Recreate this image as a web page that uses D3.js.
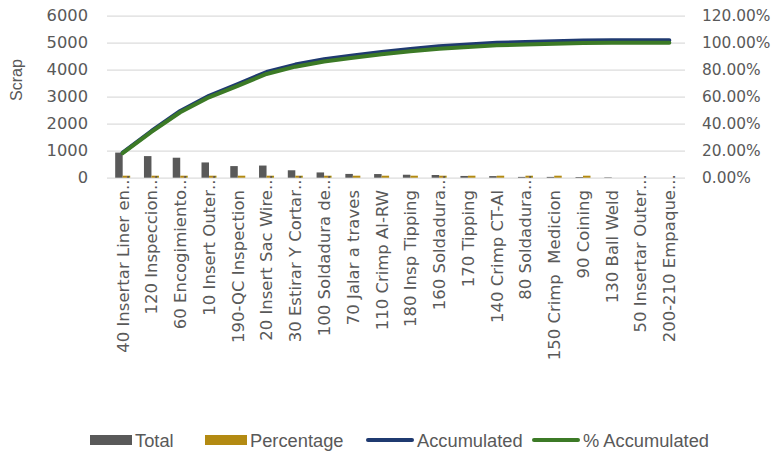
<!DOCTYPE html>
<html>
<head>
<meta charset="utf-8">
<script src="https://cdn.jsdelivr.net/npm/d3@7/dist/d3.min.js"></script>
<style>
  html, body { margin: 0; padding: 0; background: #fff; }
  svg { display: block; }
  .tick text { fill: #595959; }
</style>
</head>
<body>
<svg id="chart" width="774" height="453"></svg>
<script>
var categories = [
  "40 Insertar Liner en...", "120 Inspeccion...", "60 Encogimiento...", "10 Insert Outer...",
  "190-QC Inspection", "20 Insert Sac Wire...", "30 Estirar Y Cortar...", "100 Soldadura de...",
  "70 Jalar a traves", "110 Crimp Al-RW", "180 Insp Tipping", "160 Soldadura...",
  "170 Tipping", "140 Crimp CT-Al", "80 Soldadura...", "150 Crimp  Medicion",
  "90 Coining", "130 Ball Weld", "50 Insertar Outer...", "200-210 Empaque..."
];
var total = [930, 800, 740, 565, 430, 450, 275, 195, 140, 135, 110, 100, 65, 60, 30, 30, 25, 15, 0, 0];
var percentage = [0.18, 0.16, 0.15, 0.11, 0.08, 0.09, 0.05, 0.04, 0.03, 0.03, 0.02, 0.02, 0.01, 0.01, 0.01, 0.01, 0.01, 0, 0, 0];
var accumulated = [930, 1730, 2470, 3035, 3465, 3915, 4190, 4385, 4525, 4660, 4770, 4870, 4935, 4995, 5025, 5055, 5080, 5095, 5095, 5095];
var pctAccumulated = [0.1825, 0.3396, 0.4848, 0.5957, 0.6801, 0.7684, 0.8224, 0.8607, 0.8881, 0.9146, 0.9362, 0.9558, 0.9686, 0.9804, 0.9863, 0.9921, 0.9971, 1, 1, 1];
var leftTicks = [0, 1000, 2000, 3000, 4000, 5000, 6000];
var rightTicks = [0, 0.2, 0.4, 0.6, 0.8, 1.0, 1.2];
var legendItems = [
  { name: "Total", type: "bar", color: "#595959" },
  { name: "Percentage", type: "bar", color: "#b38a12" },
  { name: "Accumulated", type: "line", color: "#1f3a70" },
  { name: "% Accumulated", type: "line", color: "#3c7a26" }
];

var svg = d3.select("#chart");
var plotLeft = 107, plotRight = 685, plotTop = 15.7, plotBottom = 177.7;
var textColor = "#595959";

var x = d3.scaleBand().domain(categories).range([108.3, 683.7]);
var x1 = d3.scaleBand().domain(["Total", "Percentage"])
  .range([x.bandwidth() / 2 - 7.5, x.bandwidth() / 2 + 7.5]);
var yL = d3.scaleLinear().domain([0, 6000]).range([plotBottom, plotTop]);
var yR = d3.scaleLinear().domain([0, 1.2]).range([plotBottom, plotTop]);

// left axis with gridlines
var gL = svg.append("g")
  .attr("transform", "translate(" + plotLeft + ",0)")
  .call(d3.axisLeft(yL).tickValues(leftTicks).tickSizeInner(-(plotRight - plotLeft)).tickSizeOuter(0).tickPadding(19).tickFormat(d3.format("d")));
gL.select(".domain").remove();
gL.selectAll(".tick line").attr("stroke", "#dcdcdc").attr("stroke-width", 1.3);
gL.selectAll(".tick text").attr("font-family", "DejaVu Sans").attr("font-size", 16.3);

// right axis
var gR = svg.append("g")
  .attr("transform", "translate(" + plotRight + ",0)")
  .call(d3.axisRight(yR).tickValues(rightTicks).tickSize(0).tickPadding(17).tickFormat(d3.format(".2%")));
gR.select(".domain").remove();
gR.selectAll(".tick text").attr("font-family", "DejaVu Sans").attr("font-size", 15.4);

// y title
svg.append("text")
  .attr("transform", "translate(22,80) rotate(-90)")
  .attr("text-anchor", "middle")
  .attr("font-family", "Liberation Sans")
  .attr("font-size", 16)
  .attr("fill", textColor)
  .text("Scrap");

// bars
var groups = svg.append("g").selectAll("g")
  .data(categories)
  .enter().append("g")
  .attr("transform", function (d) { return "translate(" + x(d) + ",0)"; });

groups.append("rect")
  .attr("x", x1("Total"))
  .attr("width", x1.bandwidth())
  .attr("y", function (d, i) { return yL(total[i]); })
  .attr("height", function (d, i) { return plotBottom - yL(total[i]); })
  .attr("fill", legendItems[0].color);

groups.filter(function (d, i) { return percentage[i] > 0; })
  .append("rect")
  .attr("x", x1("Percentage"))
  .attr("width", x1.bandwidth())
  .attr("y", function (d) { var i = categories.indexOf(d); return Math.min(yL(percentage[i]), plotBottom - 2); })
  .attr("height", function (d) { var i = categories.indexOf(d); return Math.max(plotBottom - yL(percentage[i]), 2); })
  .attr("fill", legendItems[1].color);

// category labels
var labels = svg.append("g").selectAll("g")
  .data(categories)
  .enter().append("g")
  .attr("transform", function (d) { return "translate(" + (x(d) + x.bandwidth() / 2) + ",190) rotate(-90)"; })
  .attr("font-family", "DejaVu Sans")
  .attr("font-size", 16.5)
  .attr("fill", textColor);

labels.append("text")
  .attr("text-anchor", "end")
  .attr("dy", "0.36em")
  .style("white-space", "pre")
  .text(function (d) { return d.replace("...", ""); });

labels.filter(function (d) { return d.indexOf("...") >= 0; })
  .append("text")
  .attr("text-anchor", "start")
  .attr("dy", "0.36em")
  .text("...");

// lines
var cx = function (d, i) { return x(categories[i]) + x.bandwidth() / 2; };
var accLine = d3.line().x(cx).y(function (d) { return yL(d); });
var pctLine = d3.line().x(cx).y(function (d) { return yR(d); });

svg.append("path")
  .datum(accumulated)
  .attr("d", accLine)
  .attr("fill", "none")
  .attr("stroke", legendItems[2].color)
  .attr("stroke-width", 4)
  .attr("stroke-linejoin", "round")
  .attr("stroke-linecap", "round");

svg.append("path")
  .datum(pctAccumulated)
  .attr("d", pctLine)
  .attr("fill", "none")
  .attr("stroke", legendItems[3].color)
  .attr("stroke-width", 4)
  .attr("stroke-linejoin", "round")
  .attr("stroke-linecap", "round");

// legend
var legendX = [90, 205, 367, 533];
var legend = svg.append("g").selectAll("g")
  .data(legendItems)
  .enter().append("g")
  .attr("transform", function (d, i) { return "translate(" + legendX[i] + ",440)"; });

legend.filter(function (d) { return d.type === "bar"; })
  .append("rect")
  .attr("x", 0).attr("y", -5)
  .attr("width", 42).attr("height", 10)
  .attr("fill", function (d) { return d.color; });

legend.filter(function (d) { return d.type === "line"; })
  .append("line")
  .attr("x1", 1).attr("x2", 45)
  .attr("y1", 0).attr("y2", 0)
  .attr("stroke", function (d) { return d.color; })
  .attr("stroke-width", 4)
  .attr("stroke-linecap", "round");

legend.append("text")
  .attr("x", function (d) { return d.type === "bar" ? 45 : 50; })
  .attr("y", 6.5)
  .attr("font-family", "Liberation Sans")
  .attr("font-size", 18.3)
  .attr("fill", textColor)
  .text(function (d) { return d.name; });
</script>
</body>
</html>
